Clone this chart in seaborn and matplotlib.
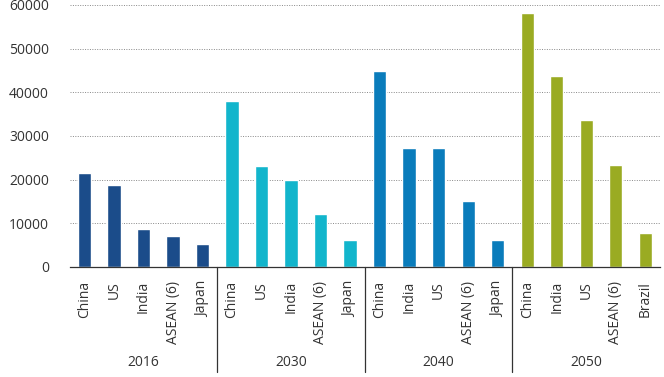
import pandas as pd
import matplotlib
matplotlib.use('Agg')
import matplotlib.pyplot as plt
import matplotlib.transforms as mtransforms
import seaborn as sns

# values
years = ['2016', '2030', '2040', '2050']
countries_2016 = ['China', 'US', 'India', 'ASEAN (6)', 'Japan']
values_2016 = [21500, 18700, 8600, 7000, 5200]
countries_2030 = ['China', 'US', 'India', 'ASEAN (6)', 'Japan']
values_2030 = [37900, 23100, 19800, 12100, 6200]
countries_2040 = ['China', 'India', 'US', 'ASEAN (6)', 'Japan']
values_2040 = [44900, 27300, 27300, 15200, 6200]
countries_2050 = ['China', 'India', 'US', 'ASEAN (6)', 'Brazil']
values_2050 = [58100, 43700, 33700, 23300, 7700]
colors = ['#1b4c8a', '#12b5cc', '#0a7cbb', '#9aab22']

countries = [countries_2016, countries_2030, countries_2040, countries_2050]
values = [values_2016, values_2030, values_2040, values_2050]

rows = []
for y, cs, vs in zip(years, countries, values):
    for c, v in zip(cs, vs):
        rows.append({'key': c + ' ' + y, 'country': c, 'year': y, 'value': v})
df = pd.DataFrame(rows)

sns.set_style('white')
plt.rcParams['font.family'] = ['Open Sans', 'DejaVu Sans']
fs = 10

fig = plt.figure(figsize=(6.64, 3.77), dpi=100)
ax = fig.add_axes([0.105, 0.292, 0.889, 0.695])

sns.barplot(data=df, x='key', y='value', hue='year', dodge=False,
            palette=dict(zip(years, colors)), width=0.45, ax=ax,
            legend=False, saturation=1)

ax.set_ylim(0, 60000)
ax.set_xlim(-0.5, len(df) - 0.5)
ax.set_yticks(range(0, 60001, 10000))
ax.set_yticklabels([str(t) for t in range(0, 60001, 10000)])
ax.set_xticks(range(len(df)))
ax.set_xticklabels(df['country'], rotation=90)
ax.tick_params(axis='x', length=0, pad=10, labelsize=fs, labelcolor='#333333')
ax.tick_params(axis='y', length=0, pad=15, labelsize=fs, labelcolor='#333333')
ax.set_xlabel('')
ax.set_ylabel('')

for t in range(10000, 60001, 10000):
    ax.axhline(t, color='#888888', linestyle=(0, (1, 1.5)), linewidth=0.7, zorder=0)

for s in ['left', 'right', 'top']:
    ax.spines[s].set_visible(False)
ax.spines['bottom'].set_color('#333333')
ax.spines['bottom'].set_linewidth(0.9)

# group separators and year labels under the axis
trans = mtransforms.blended_transform_factory(ax.transData, ax.transAxes)
start = 0
for i, (y, cs) in enumerate(zip(years, countries)):
    end = start + len(cs)
    if i > 0:
        ax.plot([start - 0.5, start - 0.5], [0, -0.40], color='#333333',
                linewidth=0.9, transform=trans, clip_on=False)
    ax.text((start + end - 1) / 2, -0.365, y, transform=trans,
            ha='center', va='center', fontsize=fs, color='#333333')
    start = end

fig.savefig('out.png', dpi=100)
